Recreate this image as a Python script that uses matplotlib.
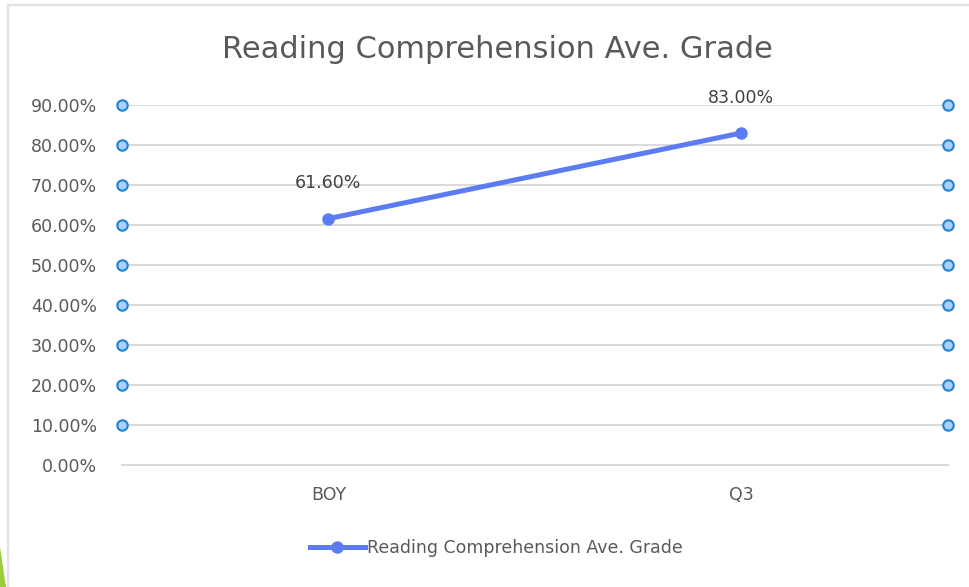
import matplotlib
matplotlib.use("Agg")
import matplotlib.pyplot as plt
from matplotlib.patches import Polygon
from matplotlib.lines import Line2D
from matplotlib.ticker import PercentFormatter

# chart data
categories = ["BOY", "Q3"]
grades = [0.616, 0.83]
y_ticks = [0.0, 0.1, 0.2, 0.3, 0.4, 0.5, 0.6, 0.7, 0.8, 0.9]
series_name = "Reading Comprehension Ave. Grade"

line_color = "#5b7cf2"
text_color = "#595959"
grid_color = "#d9d9d9"

fig = plt.figure(figsize=(9.69, 5.87), dpi=100)
fig.patch.set_facecolor("white")
ax = fig.add_axes([0.1259, 0.2078, 0.852, 0.6133])

x = list(range(len(categories)))
ax.plot(x, grades, color=line_color, linewidth=3.6, marker="o",
        markersize=8, solid_capstyle="round", zorder=3, label=series_name)

# data labels above points
for xi, v in zip(x, grades):
    ax.annotate(f"{v * 100:.2f}%", (xi, v), xytext=(0, 19),
                textcoords="offset points", ha="center", va="bottom",
                fontsize=12.5, color="#404040")

ax.set_xlim(-0.5, len(categories) - 0.5)
ax.set_ylim(0, 0.9)
ax.set_yticks(y_ticks)
ax.yaxis.set_major_formatter(PercentFormatter(1.0, decimals=2))
ax.set_xticks(x)
ax.set_xticklabels(categories)
ax.tick_params(axis="both", length=0, labelsize=12.5, labelcolor=text_color)
ax.tick_params(axis="y", pad=18)
ax.tick_params(axis="x", pad=15)
ax.grid(axis="y", color=grid_color, linewidth=1.4)
ax.set_axisbelow(True)
for side in ["top", "right", "left"]:
    ax.spines[side].set_visible(False)
ax.spines["bottom"].set_color(grid_color)
ax.spines["bottom"].set_linewidth(1.4)

# gridline selection handles
lo, hi = ax.get_xlim()
for level in y_ticks[1:]:
    ax.plot([lo, hi], [level, level], linestyle="none", marker="o",
            markersize=7.5, markerfacecolor="#a9d1f7",
            markeredgecolor="#1f80dc", markeredgewidth=1.5, clip_on=False,
            zorder=4)

fig.suptitle(series_name, x=0.513, y=0.915, va="center", fontsize=22,
             color=text_color)

handle = Line2D([], [], color=line_color, linewidth=3.6, marker="o", markersize=8)
fig.legend([handle], [series_name], loc="center", bbox_to_anchor=(0.512, 0.066),
           frameon=False, fontsize=12.5, labelcolor=text_color,
           handlelength=3.2, handletextpad=0.1)

# chart border and slide decoration
fig.add_artist(Line2D([8 / 969, 8 / 969], [0, 1 - 5 / 587], transform=fig.transFigure,
                      color="#e2e2e2", linewidth=1.6))
fig.add_artist(Line2D([8 / 969, 1], [1 - 5 / 587, 1 - 5 / 587], transform=fig.transFigure,
                      color="#e2e2e2", linewidth=1.6))
fig.add_artist(Polygon([[0, 0], [0, 40 / 587], [6 / 969, 0]], closed=True,
                       transform=fig.transFigure, facecolor="#9ccb3b",
                       edgecolor="none"))

fig.savefig("out.png", dpi=100)
